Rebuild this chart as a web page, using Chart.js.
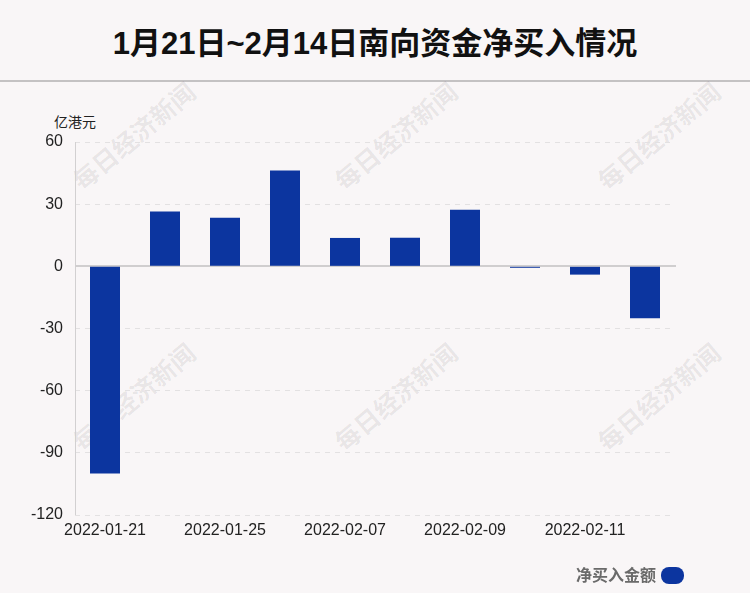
<!DOCTYPE html>
<html>
<head>
<meta charset="utf-8">
<script src="https://cdn.jsdelivr.net/npm/chart.js@4.4.1/dist/chart.umd.min.js"></script>
<style>
  html, body { margin: 0; padding: 0; }
  body { width: 750px; height: 593px; background: #f9f6f7; position: relative; overflow: hidden;
         font-family: "Liberation Sans", Arial, "Noto Sans CJK SC", sans-serif; }
  #titulo { position: absolute; left: 0; top: 18px; width: 750px; text-align: center;
            font: bold 31px "Liberation Sans", "Noto Sans CJK SC", sans-serif; color: #111; }
  #linha { position: absolute; left: 0; top: 80px; width: 750px; height: 2px; background: #c4c2c3; }
  .marca { position: absolute; font: bold 25px "Noto Sans CJK SC", sans-serif; color: rgba(0,0,0,0.08);
           transform: rotate(-40deg); white-space: nowrap; transform-origin: center; }
  #unidade { position: absolute; left: 54px; top: 111px; font: 14px "Noto Sans CJK SC", sans-serif; color: #222; }
  #legenda { position: absolute; left: 576px; top: 562px; font: bold 16px "Noto Sans CJK SC", sans-serif; color: #6a6a6a; }
  #legenda span { display: inline-block; width: 23px; height: 17px; border-radius: 8px; background: #0c359f;
                  vertical-align: -3px; margin-left: 5px; }
  canvas { position: absolute; left: 0; top: 0; }
</style>
</head>
<body>
<div id="titulo">1月21日~2月14日南向资金净买入情况</div>
<div id="linha"></div>
<div class="marca" style="left:58px;top:117px">每日经济新闻</div>
<div class="marca" style="left:320px;top:117px">每日经济新闻</div>
<div class="marca" style="left:583px;top:117px">每日经济新闻</div>
<div class="marca" style="left:58px;top:378px">每日经济新闻</div>
<div class="marca" style="left:320px;top:378px">每日经济新闻</div>
<div class="marca" style="left:583px;top:378px">每日经济新闻</div>
<div id="unidade">亿港元</div>
<canvas id="grafico" width="750" height="593"></canvas>
<div id="legenda">净买入金额<span></span></div>
<script>
// dados (亿港元)
const datas = ["2022-01-21", "2022-01-24", "2022-01-25", "2022-01-26", "2022-02-07",
               "2022-02-08", "2022-02-09", "2022-02-10", "2022-02-11", "2022-02-14"];
const valores = [-100.0, 26.5, 23.4, 46.3, 13.7, 13.8, 27.3, -0.7, -4.0, -25.0];
const ticksY = [60, 30, 0, -30, -60, -90, -120];

const azul = "#0c359f";

// linha do zero e eixo vertical, sólidos (a grade é tracejada)
const eixos = {
  id: "eixos",
  beforeDatasetsDraw(chart) {
    const { ctx, chartArea: a, scales: { y } } = chart;
    ctx.save();
    ctx.strokeStyle = "#d2d0d1";
    ctx.lineWidth = 1;
    ctx.beginPath();
    ctx.moveTo(a.left + 0.5, a.top);
    ctx.lineTo(a.left + 0.5, a.bottom);
    ctx.stroke();
    const y0 = Math.round(y.getPixelForValue(0));
    ctx.lineWidth = 2;
    ctx.strokeStyle = "#d0cecf";
    ctx.beginPath();
    ctx.moveTo(a.left, y0);
    ctx.lineTo(a.right + 1, y0);
    ctx.stroke();
    ctx.restore();
  },
};

new Chart(document.getElementById("grafico"), {
  type: "bar",
  data: {
    labels: datas,
    datasets: [{
      label: "净买入金额",
      data: valores,
      backgroundColor: azul,
      barPercentage: 0.5,
      categoryPercentage: 1,
    }],
  },
  options: {
    responsive: false,
    animation: false,
    layout: { padding: { top: 142, right: 75, bottom: 48, left: 0 } },
    plugins: { legend: { display: false }, tooltip: { enabled: false } },
    scales: {
      x: {
        grid: { display: false, drawTicks: false },
        border: { display: false },
        afterFit: s => { s.height = 30; },
        ticks: {
          autoSkip: false, maxRotation: 0, padding: 6, color: "#222",
          font: { size: 16, family: "'Liberation Sans', Arial, sans-serif" },
          callback: (v, i) => (i % 2 === 0 ? datas[i] : ""),
        },
      },
      y: {
        min: -120, max: 60,
        afterFit: s => { s.width = 75; },
        afterBuildTicks: s => { s.ticks = ticksY.map(v => ({ value: v })); },
        grid: {
          drawTicks: false,
          color: c => (c.tick && c.tick.value === 0 ? "rgba(0,0,0,0)" : "#e3e1e2"),
        },
        border: { display: false, dash: [5, 5] },
        ticks: {
          padding: 12, color: "#222",
          font: { size: 16, family: "'Liberation Sans', Arial, sans-serif" },
        },
      },
    },
  },
  plugins: [eixos],
});
</script>
</body>
</html>
